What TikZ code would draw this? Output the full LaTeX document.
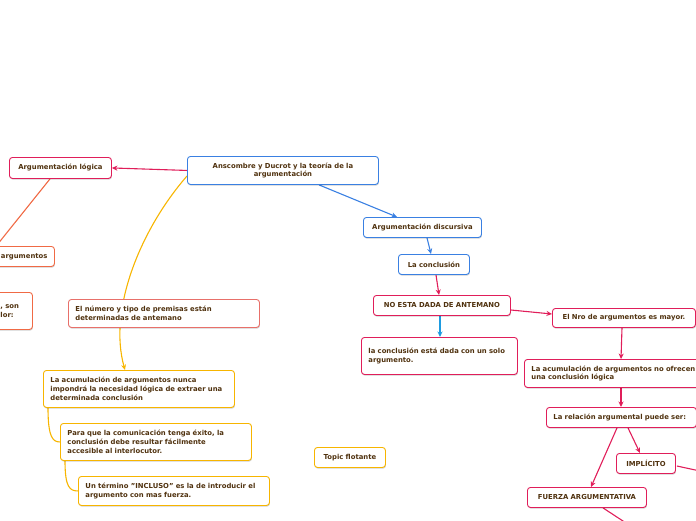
\documentclass[tikz,border=0pt]{standalone}
\usepackage{fontspec}
\setmainfont{DejaVu Sans}
\usetikzlibrary{arrows.meta,calc,shadows}
\definecolor{crim}{HTML}{E01E5A}
\definecolor{blu}{HTML}{3A80E2}
\definecolor{lblu}{HTML}{1E9BE0}
\definecolor{yel}{HTML}{F7B500}
\definecolor{salm}{HTML}{E8706A}
\definecolor{orng}{HTML}{F06A45}
\definecolor{txt}{HTML}{50320F}
\pgfdeclarelayer{bg}
\pgfsetlayers{bg,main}
\tikzset{
  box/.style={draw=#1, fill=white, rounded corners=3pt, line width=0.9pt, text=txt,
    font=\bfseries\fontsize{6.85}{8.8}\selectfont, inner xsep=7pt, inner ysep=0pt,
    drop shadow={shadow xshift=0.5pt, shadow yshift=-1.2pt, opacity=0.18, fill=black}},
  conn/.style={draw=#1, line width=1.1pt, -{Stealth[length=5.5pt,width=5pt]}},
  plain/.style={draw=#1, line width=1.1pt}
}
\newcommand\bx[8]{%
  \pgfmathsetmacro\bw{#6-#4-14}\pgfmathsetmacro\bh{#7-#5}%
  \node[box=#2, align=#3, text width=\bw pt, minimum height=\bh pt, anchor=north west] (#1) at (#4,#5) {#8};}
\begin{document}
\begin{tikzpicture}[x=1pt,y=-1pt]
\useasboundingbox (0,0) rectangle (696,520);
\clip (0,0) rectangle (696,520);
% nodes
\bx{c}{blu}{center}{187}{156}{378}{184}{Anscombre y Ducrot y la teoría de la\\argumentación}
\bx{lg}{crim}{center}{9}{157}{111}{178}{Argumentación lógica}
\bx{arg}{orng}{right}{-60}{246}{54}{266}{argumentos}
\bx{son}{orng}{left}{-7}{292}{32}{329}{, son\\lor:}
\bx{num}{salm}{left}{68}{299}{259}{327}{El número y tipo de premisas están\\determinadas de antemano}
\bx{acu}{yel}{left}{43}{370}{234}{407}{La acumulación de argumentos nunca\\impondrá la necesidad lógica de extraer una\\determinada conclusión}
\bx{para}{yel}{left}{60}{423}{251}{460}{Para que la comunicación tenga éxito, la\\conclusión debe resultar fácilmente\\accesible al interlocutor.}
\bx{inc}{yel}{left}{78}{476}{269}{505}{Un término "INCLUSO" es la de introducir el\\argumento con mas fuerza.}
\bx{tf}{yel}{center}{314}{447}{385}{467}{Topic flotante}
\bx{ad}{blu}{center}{363}{217}{481}{237}{Argumentación discursiva}
\bx{lc}{blu}{center}{398}{254}{469}{274}{La conclusión}
\bx{ne}{crim}{center}{373}{295}{510}{315}{NO ESTA DADA DE ANTEMANO}
\bx{sol}{crim}{left}{361}{337}{517}{374}{la conclusión está dada con un solo\\argumento.}
\bx{nro}{crim}{center}{552}{308}{695}{327}{El Nro de argumentos es mayor.}
\bx{acn}{crim}{left}{524}{359}{712}{387}{La acumulación de argumentos no ofrecen\\una conclusión lógica}
\bx{rel}{crim}{left}{546}{407}{696}{427}{La relación argumental puede ser:}
\bx{imp}{crim}{center}{616}{453}{675}{473}{IMPLÍCITO}
\bx{fa}{crim}{center}{527}{487}{646}{507}{FUERZA ARGUMENTATIVA}
% free ends
\coordinate (lgEnd) at (-3,245);
\coordinate (impEnd) at (700,471);
\coordinate (faEnd) at (626,523);
% connectors
\begin{pgfonlayer}{bg}
\draw[conn=crim] (c.west) -- (lg.east);
\draw[plain=orng] ($(lg.south west)+(41,0)$) -- (lgEnd);
\draw[conn=blu] ($(c.south west)+(132,0)$) -- ($(ad.north west)+(34,0)$);
\draw[conn=blu] ($(ad.south west)+(64,0)$) -- ($(lc.north west)+(33,0)$);
\draw[conn=crim] ($(lc.south west)+(38,0)$) -- ($(ne.north west)+(66,0)$);
\draw[conn=lblu] ($(ne.south west)+(67,0)$) -- ($(sol.north west)+(79,0)$);
\draw[conn=crim] ($(ne.north east)+(0,15)$) -- ($(nro.north west)+(0,6)$);
\draw[conn=crim] ($(nro.south west)+(70,0)$) -- ($(acn.north west)+(97,0)$);
\draw[conn=crim] ($(acn.south west)+(97,0)$) -- ($(rel.north west)+(75,0)$);
\draw[conn=crim] ($(rel.south west)+(82,0)$) -- ($(imp.north west)+(24,0)$);
\draw[conn=crim] ($(rel.south west)+(71,0)$) -- ($(fa.north west)+(64,0)$);
\draw[plain=crim] ($(imp.north east)+(1,13)$) -- (impEnd);
\draw[plain=crim] ($(fa.south west)+(76,0)$) -- (faEnd);
\draw[plain=yel] ($(acu.south west)+(5,0)$) .. controls +(0,30) and +(-7,0) .. (para.west);
\draw[plain=yel] ($(para.south west)+(5,0)$) .. controls +(0,27) and +(-8,0) .. (inc.west);
\draw[conn=yel] ($(c.north west)+(0,20)$) .. controls (140,230) and (108,310) .. ($(acu.north west)+(82,0)$);
\end{pgfonlayer}
\end{tikzpicture}
\end{document}
